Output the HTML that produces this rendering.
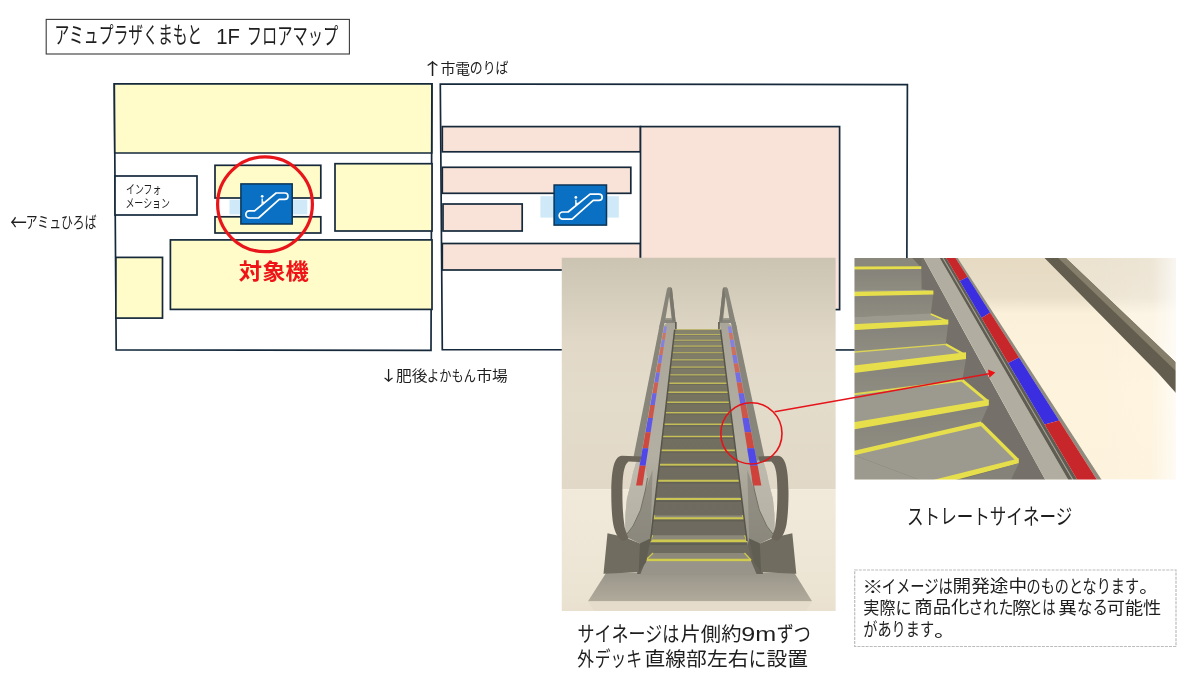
<!DOCTYPE html>
<html lang="ja"><head><meta charset="utf-8"><title>アミュプラザくまもと 1F フロアマップ</title>
<style>
html,body{margin:0;padding:0;background:#fff;}
body{width:1200px;height:683px;overflow:hidden;}
svg{display:block;}
text{font-family:"Liberation Sans", "Noto Sans CJK JP", sans-serif;}
.cjk{font-family:"Noto Sans CJK JP",sans-serif;}
</style></head><body>
<svg width="1200" height="683" viewBox="0 0 1200 683">
<rect width="1200" height="683" fill="#fff"/>
<polygon points="114.3,83.8 431.9,83.9 431,350.4 116.2,349.9" fill="#fff" stroke="#15293b" stroke-width="1.7"/>
<polygon points="114.3,83.8 431.9,83.9 431.7,153 114.8,153" fill="#fffcc9" stroke="#15293b" stroke-width="1.7"/>
<rect x="115.0" y="176.0" width="82.0" height="39.0" fill="#fff" stroke="#15293b" stroke-width="1.7" />
<rect x="215.0" y="165.3" width="105.8" height="32.7" fill="#fffcc9" stroke="#15293b" stroke-width="1.7" />
<rect x="215.0" y="216.8" width="105.8" height="16.2" fill="#fffcc9" stroke="#15293b" stroke-width="1.7" />
<rect x="335.0" y="163.7" width="97.0" height="67.3" fill="#fffcc9" stroke="#15293b" stroke-width="1.7" />
<rect x="170.4" y="239.9" width="261.6" height="69.5" fill="#fffcc9" stroke="#15293b" stroke-width="1.7" />
<rect x="115.9" y="257.4" width="46.6" height="60.7" fill="#fffcc9" stroke="#15293b" stroke-width="1.7" />
<polygon points="440.3,84.1 907.4,84.6 906.6,350 442.3,349.7" fill="#fff" stroke="#15293b" stroke-width="1.7"/>
<rect x="442.3" y="126.6" width="198.2" height="25.2" fill="#f9e3d8" stroke="#15293b" stroke-width="1.7" />
<rect x="442.3" y="167.3" width="188.5" height="26.0" fill="#f9e3d8" stroke="#15293b" stroke-width="1.7" />
<rect x="443.0" y="204.0" width="79.2" height="27.0" fill="#f9e3d8" stroke="#15293b" stroke-width="1.7" />
<rect x="442.3" y="243.5" width="198.2" height="26.5" fill="#f9e3d8" stroke="#15293b" stroke-width="1.7" />
<rect x="640.5" y="126.6" width="199.1" height="183.0" fill="#f9e3d8" stroke="#15293b" stroke-width="1.7" />
<rect x="229.5" y="199.7" width="77.80000000000001" height="14.700000000000017" fill="#cfe9f9"/>
<g transform="translate(240.2,183.2) scale(1.0,1)">
<rect x="0.7" y="0.7" width="51.3" height="40.1" fill="#0a70c4" stroke="#0b3556" stroke-width="1.5"/>
<path d="M9.2 27.7 H14.4 L35.9 9.8 H44.6 A3.15 3.15 0 0 1 44.6 16.1 H39 L18.3 34.8 H9.2 A3.55 3.55 0 0 1 9.2 27.7 Z" fill="none" stroke="#fff" stroke-width="1.7" stroke-linejoin="round"/>
<circle cx="22" cy="13.1" r="1.35" fill="#fff"/>
<path d="M22 15.4 V19.8 L23.6 18.6" fill="none" stroke="#fff" stroke-width="1.3"/>
</g>
<rect x="540.4" y="196.2" width="78.39999999999998" height="21.400000000000006" fill="#cfe9f9"/>
<g transform="translate(553.4,184.3) scale(1.021,1)">
<rect x="0.7" y="0.7" width="51.3" height="40.1" fill="#0a70c4" stroke="#0b3556" stroke-width="1.5"/>
<path d="M9.2 27.7 H14.4 L35.9 9.8 H44.6 A3.15 3.15 0 0 1 44.6 16.1 H39 L18.3 34.8 H9.2 A3.55 3.55 0 0 1 9.2 27.7 Z" fill="none" stroke="#fff" stroke-width="1.7" stroke-linejoin="round"/>
<circle cx="22" cy="13.1" r="1.35" fill="#fff"/>
<path d="M22 15.4 V19.8 L23.6 18.6" fill="none" stroke="#fff" stroke-width="1.3"/>
</g>
<circle cx="265" cy="204.3" r="47.4" fill="none" stroke="#e8161a" stroke-width="3.2"/>
<defs>
<clipPath id="cpL"><rect x="561.5" y="257.5" width="274.29999999999995" height="353.5"/></clipPath>
<linearGradient id="wallL" x1="0" y1="0" x2="0" y2="1"><stop offset="0" stop-color="#ccc4b2"/><stop offset="0.18" stop-color="#d6cebc"/><stop offset="0.37" stop-color="#e1d8c8"/><stop offset="0.62" stop-color="#e4dccb"/><stop offset="1" stop-color="#e1d8c7"/></linearGradient>
<linearGradient id="floorL" x1="0" y1="0" x2="0" y2="1"><stop offset="0" stop-color="#f1e9da"/><stop offset="0.85" stop-color="#ece4d3"/><stop offset="1" stop-color="#e9e0cf"/></linearGradient>
<linearGradient id="panelL" x1="0" y1="0" x2="0" y2="1"><stop offset="0" stop-color="#a9a598"/><stop offset="0.6" stop-color="#b3afa2"/><stop offset="1" stop-color="#98958a"/></linearGradient>
<linearGradient id="riser" x1="0" y1="0" x2="0" y2="1"><stop offset="0" stop-color="#86836f"/><stop offset="0.3" stop-color="#75725f"/><stop offset="0.6" stop-color="#6f6c60"/><stop offset="1" stop-color="#6d6a60"/></linearGradient>
<filter id="soft" x="-5%" y="-5%" width="110%" height="110%"><feGaussianBlur stdDeviation="0.55"/></filter>
</defs>
<g clip-path="url(#cpL)">
<rect x="561.5" y="257.5" width="274.29999999999995" height="231.7" fill="url(#wallL)"/>
<rect x="561.5" y="489.2" width="274.29999999999995" height="121.80000000000001" fill="url(#floorL)"/>
<g filter="url(#soft)">
<linearGradient id="platL" x1="0" y1="0" x2="0" y2="1"><stop offset="0" stop-color="#9a968a"/><stop offset="1" stop-color="#b0aa9b"/></linearGradient>
<polygon points="606,573 794.5,573 812,601.3 588,601.3" fill="url(#platL)"/>
<polygon points="588,601.3 812,601.3 806,611 594,611" fill="#e3dac9" opacity="0.7"/>
<polygon points="641,538 759,538 763,574 637,574" fill="#67645a"/>
<polygon points="674.7,329.7 720.5,329.7 747.0,541 751.3,561 753,566 644,566 645.5,561 650.5,541" fill="url(#riser)"/>
<line x1="674.7" y1="329.7" x2="720.5" y2="329.7" stroke="#bab460" stroke-width="1.00"/>
<line x1="674.7" y1="330.7" x2="720.5" y2="330.7" stroke="#5a574e" stroke-width="0.80" opacity="0.25"/>
<line x1="674.2" y1="334.4" x2="721.1" y2="334.4" stroke="#bab45f" stroke-width="1.03"/>
<line x1="674.2" y1="335.4" x2="721.1" y2="335.4" stroke="#5a574e" stroke-width="0.82" opacity="0.26"/>
<line x1="673.5" y1="340.3" x2="721.8" y2="340.3" stroke="#bbb55f" stroke-width="1.07"/>
<line x1="673.5" y1="341.4" x2="721.8" y2="341.4" stroke="#5a574e" stroke-width="0.86" opacity="0.27"/>
<line x1="672.8" y1="346.1" x2="722.5" y2="346.1" stroke="#bbb55e" stroke-width="1.11"/>
<line x1="672.8" y1="347.2" x2="722.5" y2="347.2" stroke="#5a574e" stroke-width="0.89" opacity="0.28"/>
<line x1="672.1" y1="352.7" x2="723.4" y2="352.7" stroke="#bcb65e" stroke-width="1.15"/>
<line x1="672.1" y1="353.8" x2="723.4" y2="353.8" stroke="#5a574e" stroke-width="0.92" opacity="0.29"/>
<line x1="671.2" y1="359.9" x2="724.3" y2="359.9" stroke="#bdb75d" stroke-width="1.20"/>
<line x1="671.2" y1="361.1" x2="724.3" y2="361.1" stroke="#5a574e" stroke-width="0.96" opacity="0.30"/>
<line x1="670.4" y1="367.1" x2="725.2" y2="367.1" stroke="#bdb75d" stroke-width="1.24"/>
<line x1="670.4" y1="368.3" x2="725.2" y2="368.3" stroke="#5a574e" stroke-width="0.99" opacity="0.31"/>
<line x1="669.5" y1="374.8" x2="726.1" y2="374.8" stroke="#beb85c" stroke-width="1.29"/>
<line x1="669.5" y1="376.1" x2="726.1" y2="376.1" stroke="#5a574e" stroke-width="1.03" opacity="0.33"/>
<line x1="668.6" y1="383.2" x2="727.2" y2="383.2" stroke="#bfb95b" stroke-width="1.35"/>
<line x1="668.6" y1="384.5" x2="727.2" y2="384.5" stroke="#5a574e" stroke-width="1.08" opacity="0.34"/>
<line x1="667.5" y1="392.3" x2="728.3" y2="392.3" stroke="#c0ba5b" stroke-width="1.41"/>
<line x1="667.5" y1="393.7" x2="728.3" y2="393.7" stroke="#5a574e" stroke-width="1.13" opacity="0.36"/>
<line x1="666.4" y1="402.2" x2="729.6" y2="402.2" stroke="#c1bb5a" stroke-width="1.47"/>
<line x1="666.4" y1="403.7" x2="729.6" y2="403.7" stroke="#5a574e" stroke-width="1.18" opacity="0.38"/>
<line x1="665.2" y1="412.7" x2="730.9" y2="412.7" stroke="#c2bc59" stroke-width="1.54"/>
<line x1="665.2" y1="414.2" x2="730.9" y2="414.2" stroke="#5a574e" stroke-width="1.23" opacity="0.39"/>
<line x1="663.8" y1="424.3" x2="732.3" y2="424.3" stroke="#c3bd58" stroke-width="1.62"/>
<line x1="663.8" y1="425.9" x2="732.3" y2="425.9" stroke="#5a574e" stroke-width="1.29" opacity="0.41"/>
<line x1="662.4" y1="436.5" x2="733.9" y2="436.5" stroke="#c5bf57" stroke-width="1.70"/>
<line x1="662.4" y1="438.2" x2="733.9" y2="438.2" stroke="#5a574e" stroke-width="1.36" opacity="0.44"/>
<line x1="660.9" y1="450.3" x2="735.6" y2="450.3" stroke="#c6c056" stroke-width="1.78"/>
<line x1="660.9" y1="452.1" x2="735.6" y2="452.1" stroke="#5a574e" stroke-width="1.43" opacity="0.46"/>
<line x1="659.2" y1="464.7" x2="737.4" y2="464.7" stroke="#c8c255" stroke-width="1.88"/>
<line x1="659.2" y1="466.6" x2="737.4" y2="466.6" stroke="#5a574e" stroke-width="1.50" opacity="0.48"/>
<polygon points="658.9,480.1 737.8,480.1 739.4,480.8 657.4,480.8" fill="#8d897a"/>
<line x1="657.4" y1="480.8" x2="739.4" y2="480.8" stroke="#c9c354" stroke-width="1.98"/>
<line x1="657.4" y1="482.8" x2="739.4" y2="482.8" stroke="#5a574e" stroke-width="1.59" opacity="0.51"/>
<polygon points="656.9,497.5 740.0,497.5 741.7,499.0 655.3,499.0" fill="#8d897a"/>
<line x1="655.3" y1="499.0" x2="741.7" y2="499.0" stroke="#cbc552" stroke-width="2.10"/>
<line x1="655.3" y1="501.1" x2="741.7" y2="501.1" stroke="#5a574e" stroke-width="1.68" opacity="0.54"/>
<polygon points="654.9,515.4 742.3,515.4 744.1,518.3 653.1,518.3" fill="#8d897a"/>
<path d="M654.9 515.4 L653.1 518.3 M742.3 515.4 L744.1 518.3" stroke="#cfc84e" stroke-width="1.3" fill="none"/>
<line x1="653.1" y1="518.3" x2="744.1" y2="518.3" stroke="#cdc751" stroke-width="2.23"/>
<line x1="653.1" y1="520.5" x2="744.1" y2="520.5" stroke="#5a574e" stroke-width="1.78" opacity="0.58"/>
<polygon points="652.6,535.2 744.7,535.2 747.0,540.9 650.5,540.9" fill="#8d897a"/>
<path d="M652.6 535.2 L650.5 540.9 M744.7 535.2 L747.0 540.9" stroke="#cfc84e" stroke-width="1.3" fill="none"/>
<line x1="650.5" y1="540.9" x2="747.0" y2="540.9" stroke="#cfc94f" stroke-width="2.87"/>
<line x1="650.5" y1="543.8" x2="747.0" y2="543.8" stroke="#5a574e" stroke-width="2.30" opacity="0.62"/>
<polygon points="653.1,553.0 744.5,553.0 751.1,560.2 645.6,560.2" fill="#8d897a"/>
<path d="M653.1 553.0 L645.6 560.2 M744.5 553.0 L751.1 560.2" stroke="#cfc84e" stroke-width="1.3" fill="none"/>
<line x1="645.6" y1="560.2" x2="751.1" y2="560.2" stroke="#d2cc4e" stroke-width="3.00"/>
<line x1="645.6" y1="563.2" x2="751.1" y2="563.2" stroke="#5a574e" stroke-width="2.40" opacity="0.65"/>
<polygon points="645.6,561.2 751.1,561.2 757,575 640,575" fill="#98948a"/>
<polygon points="640.7,459.0 636.4,461.5 633.2,472.0 630.8,483.5 626.9,498.8 625.4,514.2 625.2,528.0 626.0,537.0 640.0,543.5 650.6,538.7 650.0,545.0 675.7,321.0 668.2,321.0 663.9,326.0" fill="url(#panelL)"/>
<polygon points="652.5,470.0 645.6,490.0 641.0,510.0 633.0,527.0 626.0,536.5 640.0,543.5 650.6,538.7" fill="#7f7c71" opacity="0.55"/>
<polygon points="636.4,461.5 633.2,472.0 630.8,483.5 626.9,498.8 625.4,514.2 625.2,528.0 626.5,534.0 633.0,526.0 640.5,510.0 645.4,490.0 647.5,478.0 645.0,466.0" fill="#c6c3b6" opacity="0.6"/>
<polyline points="647.5,478.0 645.4,490.0 640.5,510.0 633.0,526.0 627.0,534.0" fill="none" stroke="#5d5a50" stroke-width="0.9" opacity="0.8"/>
<line x1="674.7" y1="329.7" x2="650.5" y2="541" stroke="#57544a" stroke-width="1.5"/>
<polygon points="660.3,322 664.6,322 640.3,461 633.5,457" fill="#88857a"/>
<polygon points="664.24,326.6 666.90,326.6 665.89,333.0 663.14,333.0" fill="#8c86de"/>
<polygon points="663.12,333.0 665.91,333.0 664.84,339.8 661.95,339.8" fill="#cc7565"/>
<polygon points="661.92,339.8 664.86,339.8 663.71,347.1 660.66,347.1" fill="#857fdf"/>
<polygon points="660.64,347.1 663.74,347.1 662.50,354.9 659.28,354.9" fill="#cc6f60"/>
<polygon points="659.25,354.9 662.53,354.9 661.19,363.4 657.79,363.4" fill="#7e77e0"/>
<polygon points="657.75,363.4 661.23,363.4 659.78,372.5 656.17,372.5" fill="#cd685a"/>
<polygon points="656.13,372.5 659.82,372.5 658.26,382.5 654.41,382.5" fill="#756ee2"/>
<polygon points="654.36,382.5 658.30,382.5 656.60,393.3 652.49,393.3" fill="#cd5f53"/>
<polygon points="652.44,393.3 656.65,393.3 654.79,405.1 650.39,405.1" fill="#6a63e3"/>
<polygon points="650.33,405.1 654.85,405.1 652.82,418.0 648.08,418.0" fill="#cd564b"/>
<polygon points="648.01,418.0 652.88,418.0 650.64,432.3 645.52,432.3" fill="#5e56e5"/>
<polygon points="645.45,432.3 650.72,432.3 648.24,448.2 642.68,448.2" fill="#ce4a41"/>
<polygon points="642.60,448.2 648.33,448.2 645.57,465.8 639.51,465.8" fill="#4f47e8"/>
<polygon points="639.50,465.8 645.58,465.8 642.49,485.6 636.05,485.6" fill="#ce423a"/>
<path d="M658.7 330.0 L667.0 288.8 L668.2 287.3 L670.9 287.3 L672.0 288.8 L675.6 321.5 L675.6 323.0 L664.0 323.0 Z M669.2 296.2 L671.5 317.9 L665.6 317.9 Z" fill="#87847a" fill-rule="evenodd"/>
<path d="M670.9 287.3 L672.0 288.8 L675.6 321.5 L672.6 321.5 L669.6 296.2 Z" fill="#7a776c"/>
<polygon points="665.3,318.2 672.0,318.2 672.0,319.4 665.1,319.4" fill="#a5a195"/>
<polygon points="675.0,322.0 676.7,322.0 676.7,329.3 675.0,329.3" fill="#5f5c52"/>
<polygon points="607.5,533.2 624.0,537.0 640.0,543.5 650.8,538.5 646.0,562.0 638.7,572.3 603.5,573.8" fill="#6f6c60"/>
<polygon points="640.0,543.5 650.8,538.5 646.0,562.0 638.7,572.3" fill="#605d52"/>
<path d="M641.5 456.6 L622.0 455.8 C614.0 456.0 611.5 470.0 611.3 491.0 C611.2 505.0 612.0 517.0 613.3 524.6 C615.0 533.0 618.0 539.0 623.0 541.0 L628.5 538.5 C626.5 533.0 625.2 530.0 624.6 527.0 C622.8 515.0 622.3 503.0 622.4 491.0 C622.5 477.0 623.5 464.8 628.5 461.4 L640.0 462.0 Z " fill="#6a6558"/>
<polygon points="759.1,459.0 763.4,461.5 766.6,472.0 769.0,483.5 772.9,498.8 774.4,514.2 774.6,528.0 773.8,537.0 759.8,543.5 749.2,538.7 747.5,545.0 719.4,321.0 726.3,321.0 731.6,326.0" fill="url(#panelL)"/>
<polygon points="747.3,470.0 754.2,490.0 758.8,510.0 766.8,527.0 773.8,536.5 759.8,543.5 749.2,538.7" fill="#7f7c71" opacity="0.55"/>
<polygon points="763.4,461.5 766.6,472.0 769.0,483.5 772.9,498.8 774.4,514.2 774.6,528.0 773.3,534.0 766.8,526.0 759.3,510.0 754.4,490.0 752.3,478.0 754.8,466.0" fill="#c6c3b6" opacity="0.6"/>
<polyline points="752.3,478.0 754.4,490.0 759.3,510.0 766.8,526.0 772.8,534.0" fill="none" stroke="#5d5a50" stroke-width="0.9" opacity="0.8"/>
<line x1="720.5" y1="329.7" x2="747.0" y2="541" stroke="#57544a" stroke-width="1.5"/>
<polygon points="735.6,322 730.8,322 756.8,461 764.4,457" fill="#88857a"/>
<polygon points="731.14,326.6 727.77,326.6 728.82,333.0 732.31,333.0" fill="#8c86de"/>
<polygon points="732.33,333.0 728.79,333.0 729.92,339.8 733.59,339.8" fill="#cc7565"/>
<polygon points="733.62,339.8 729.89,339.8 731.10,347.1 734.96,347.1" fill="#857fdf"/>
<polygon points="735.00,347.1 731.07,347.1 732.37,354.9 736.45,354.9" fill="#cc6f60"/>
<polygon points="736.49,354.9 732.33,354.9 733.73,363.4 738.05,363.4" fill="#7e77e0"/>
<polygon points="738.09,363.4 733.68,363.4 735.20,372.5 739.78,372.5" fill="#cd685a"/>
<polygon points="739.83,372.5 735.15,372.5 736.79,382.5 741.67,382.5" fill="#756ee2"/>
<polygon points="741.73,382.5 736.73,382.5 738.51,393.3 743.73,393.3" fill="#cd5f53"/>
<polygon points="743.79,393.3 738.45,393.3 740.40,405.1 745.99,405.1" fill="#6a63e3"/>
<polygon points="746.06,405.1 740.32,405.1 742.45,418.0 748.47,418.0" fill="#cd564b"/>
<polygon points="748.55,418.0 742.37,418.0 744.72,432.3 751.21,432.3" fill="#5e56e5"/>
<polygon points="751.31,432.3 744.62,432.3 747.21,448.2 754.26,448.2" fill="#ce4a41"/>
<polygon points="754.37,448.2 747.10,448.2 749.98,465.8 757.67,465.8" fill="#4f47e8"/>
<polygon points="757.68,465.8 749.97,465.8 753.20,485.6 761.38,485.6" fill="#ce423a"/>
<path d="M737.3 330.0 L727.8 288.8 L726.6 287.3 L723.9 287.3 L722.8 288.8 L719.2 321.5 L719.2 323.0 L730.8 323.0 Z M725.6 296.2 L723.3 317.9 L729.2 317.9 Z" fill="#87847a" fill-rule="evenodd"/>
<path d="M723.9 287.3 L722.8 288.8 L719.2 321.5 L722.2 321.5 L725.2 296.2 Z" fill="#7a776c"/>
<polygon points="729.5,318.2 722.8,318.2 722.8,319.4 729.7,319.4" fill="#a5a195"/>
<polygon points="719.8,322.0 718.1,322.0 718.1,329.3 719.8,329.3" fill="#5f5c52"/>
<polygon points="792.3,533.2 775.8,537.0 759.8,543.5 749.0,538.5 753.8,562.0 761.1,572.3 796.3,573.8" fill="#6f6c60"/>
<polygon points="759.8,543.5 749.0,538.5 753.8,562.0 761.1,572.3" fill="#605d52"/>
<path d="M758.3 456.6 L777.8 455.8 C785.8 456.0 788.3 470.0 788.5 491.0 C788.6 505.0 787.8 517.0 786.5 524.6 C784.8 533.0 781.8 539.0 776.8 541.0 L771.3 538.5 C773.3 533.0 774.6 530.0 775.2 527.0 C777.0 515.0 777.5 503.0 777.4 491.0 C777.3 477.0 776.3 464.8 771.3 461.4 L759.8 462.0 Z " fill="#6a6558"/>
</g>
</g>
<defs>
<clipPath id="cpR"><rect x="854.5" y="257.9" width="321.0999999999999" height="221.70000000000005"/></clipPath>
<linearGradient id="bgR" x1="0" y1="0" x2="0" y2="1"><stop offset="0" stop-color="#e6dac3"/><stop offset="0.175" stop-color="#e9dec8"/><stop offset="0.25" stop-color="#fbf0da"/><stop offset="0.6" stop-color="#fef3dd"/><stop offset="1" stop-color="#fdf2dc"/></linearGradient>
<linearGradient id="bgR2" x1="0" y1="0" x2="1" y2="0"><stop offset="0" stop-color="#fff" stop-opacity="0"/><stop offset="0.7" stop-color="#fff" stop-opacity="0.1"/><stop offset="1" stop-color="#fff" stop-opacity="0.7"/></linearGradient>
<linearGradient id="riserR" x1="0" y1="0" x2="0" y2="1"><stop offset="0" stop-color="#85827a"/><stop offset="1" stop-color="#8f8c81"/></linearGradient>
<filter id="softR" x="-5%" y="-5%" width="110%" height="110%"><feGaussianBlur stdDeviation="0.6"/></filter>
</defs>
<g clip-path="url(#cpR)">
<rect x="854.5" y="257.9" width="321.0999999999999" height="221.70000000000005" fill="url(#bgR)"/>
<polygon points="1062,255 1180,255 1180,368" fill="#fff" opacity="0.22"/>
<rect x="1094.5" y="257.9" width="81.09999999999991" height="221.70000000000005" fill="url(#bgR2)"/>
<g filter="url(#softR)">
<polygon points="1041.6,255.0 1062.7,255.0 1180.0,366.5 1180.0,397.5 1158.0,373.0" fill="#625d4f"/>
<polygon points="1055.0,255.0 1062.7,255.0 1180.0,366.5 1180.0,375.0" fill="#857e6b"/>
<polygon points="850.0,255.0 922.0,255.0 1046.5,482.0 850.0,482.0" fill="#74716a"/>
<polygon points="922.2,255.0 938.0,255.0 1069.5,482.0 1046.5,482.0" fill="#b1aea1"/>
<polygon points="938.0,255.0 944.4,255.0 1078.6,482.0 1069.5,482.0" fill="#5f5c52"/>
<polyline points="941.2,255.0 1074.2,482.0" fill="none" stroke="#a7a396" stroke-width="1.1"/>
<polygon points="953.5,255.0 955.7,255.0 1103.0,482.0 1098.4,482.0" fill="#8f8b7e"/>
<polygon points="941.4,250.0 950.4,250.0 967.6,277.0 959.8,281.0" fill="#c7252a"/>
<polygon points="959.8,281.0 967.6,277.0 990.2,312.5 981.6,318.0" fill="#3a2ee0"/>
<polygon points="981.6,318.0 990.2,312.5 1019.0,357.5 1008.2,363.0" fill="#c7252a"/>
<polygon points="1008.2,363.0 1019.0,357.5 1059.2,420.5 1044.6,424.5" fill="#3a2ee0"/>
<polygon points="1044.6,424.5 1059.2,420.5 1100.9,486.0 1083.3,490.0" fill="#c7252a"/>
<polygon points="850.0,255.0 909.7,255.0 921.3,266.6 850.0,266.8" fill="#8a877c"/>
<polygon points="909.7,255.0 922.0,255.0 921.5,268.0" fill="#6f6c62"/>
<polygon points="850.0,269.3 921.3,269.0 921.6,289.6 850.0,290.3" fill="url(#riserR)"/>
<polygon points="850.0,266.6 921.3,266.3 921.3,269.1 850.0,269.5" fill="#e6df4c"/>
<polygon points="850.0,290.2 922.5,289.5 933.4,291.0 850.0,292.2" fill="#9c998e"/>
<polygon points="850.0,294.5 933.4,293.0 930.7,314.0 850.0,317.2" fill="url(#riserR)"/>
<polygon points="850.0,291.8 933.4,290.6 933.4,294.4 850.0,296.2" fill="#e6df4c"/>
<polygon points="850.0,317.2 930.7,313.6 948.3,321.3 850.0,326.0" fill="#9c998e"/>
<polyline points="930.7,313.9 947.6,321.2" fill="none" stroke="#e6df4c" stroke-width="1.6"/>
<polygon points="850.0,329.0 948.2,323.6 945.7,344.0 850.0,352.2" fill="url(#riserR)"/>
<polygon points="850.0,324.4 948.3,319.6 948.3,324.4 850.0,330.4" fill="#e6df4c"/>
<polygon points="850.0,352.2 945.7,344.0 966.0,355.5 850.0,367.0" fill="#9c998e"/>
<polyline points="945.7,344.3 965.0,355.0" fill="none" stroke="#e6df4c" stroke-width="2.2"/>
<polyline points="850.0,352.4 945.7,344.3" fill="none" stroke="#e6df4c" stroke-width="1.3" opacity="0.85"/>
<polygon points="850.0,372.0 966.0,358.5 962.4,380.0 850.0,394.5" fill="url(#riserR)"/>
<polygon points="850.0,366.0 966.0,352.2 966.0,359.0 850.0,373.5" fill="#e6df4c"/>
<polygon points="850.0,394.5 962.4,380.0 988.8,402.0 850.0,424.0" fill="#9c998e"/>
<polyline points="962.4,380.4 987.6,401.3" fill="none" stroke="#e6df4c" stroke-width="2.8"/>
<polyline points="850.0,394.8 962.4,380.4" fill="none" stroke="#e6df4c" stroke-width="2" opacity="0.9"/>
<polygon points="850.0,428.0 988.8,404.6 980.8,423.0 850.0,453.5" fill="url(#riserR)"/>
<polygon points="850.0,422.8 988.8,399.6 988.8,405.6 850.0,430.0" fill="#e6df4c"/>
<polygon points="850.0,453.5 980.8,423.0 1018.8,460.8 930.0,484.0" fill="#9c998e"/>
<polygon points="850.0,453.5 930.0,484.0 850.0,484.0" fill="#9c998e"/>
<polyline points="980.8,423.5 1017.4,460.0" fill="none" stroke="#e6df4c" stroke-width="3.4"/>
<polygon points="850.0,451.6 980.8,421.6 983.5,425.6 850.0,456.2" fill="#e6df4c"/>
<polygon points="925.0,482.0 1018.8,458.4 1018.8,463.2 948.0,482.0" fill="#e6df4c"/>
<polygon points="952.0,482.0 1018.8,463.2 1010.0,482.0" fill="#85827a"/>
</g></g>
<circle cx="751.4" cy="433.4" r="30.6" fill="none" stroke="#e5141a" stroke-width="1.6"/>
<line x1="774.6" y1="411.8" x2="989" y2="373.8" stroke="#e5141a" stroke-width="1.4"/>
<polygon points="995.3,372.6 988,369.6 989.4,377.7" fill="#f01014"/>
<rect x="46.2" y="19.4" width="303.2" height="34.6" fill="#fff" stroke="#3a3a3a" stroke-width="1.1" />
<rect x="854.7" y="570" width="321.3" height="76.5" fill="#fff" stroke="#bcbcbc" stroke-width="1.2" stroke-dasharray="3 1.1"/>
<text fill="#1e1e1e" font-weight="400"><tspan x="54.52" y="43.41" font-size="22.60" textLength="147.64" lengthAdjust="spacingAndGlyphs">アミュプラザくまもと</tspan><tspan x="216.13" y="43.57" font-size="21.50" textLength="23.69" lengthAdjust="spacingAndGlyphs">1F</tspan><tspan x="246.71" y="43.57" font-size="22.60" textLength="91.52" lengthAdjust="spacingAndGlyphs">フロアマップ</tspan></text>
<text fill="#1e1e1e" font-weight="400"><tspan x="421.20" y="74.64" font-size="16.60" textLength="22.61" lengthAdjust="spacingAndGlyphs" class="cjk">↑</tspan></text>
<text fill="#1e1e1e" font-weight="400"><tspan x="440.41" y="73.64" font-size="14.40" textLength="29.85" lengthAdjust="spacingAndGlyphs">市電</tspan><tspan x="469.71" y="73.32" font-size="15.20" textLength="38.79" lengthAdjust="spacingAndGlyphs">のりば</tspan></text>
<text fill="#1e1e1e" font-weight="400"><tspan x="10.35" y="230.44" font-size="21.60" textLength="16.55" lengthAdjust="spacingAndGlyphs" class="cjk">←</tspan></text>
<text fill="#1e1e1e" font-weight="400"><tspan x="25.74" y="227.60" font-size="15.40" textLength="70.83" lengthAdjust="spacingAndGlyphs">アミュひろば</tspan></text>
<text fill="#1e1e1e" font-weight="400"><tspan x="126.10" y="194.06" font-size="12.40" textLength="35.28" lengthAdjust="spacingAndGlyphs">インフォ</tspan></text>
<text fill="#1e1e1e" font-weight="400"><tspan x="125.38" y="207.74" font-size="12.40" textLength="44.69" lengthAdjust="spacingAndGlyphs">メーション</tspan></text>
<text fill="#1e1e1e" font-weight="400"><tspan x="379.21" y="380.28" font-size="14.20" textLength="18.68" lengthAdjust="spacingAndGlyphs" class="cjk">↓</tspan></text>
<text fill="#1e1e1e" font-weight="400"><tspan x="395.97" y="381.37" font-size="14.40" textLength="31.56" lengthAdjust="spacingAndGlyphs">肥後</tspan><tspan x="427.12" y="381.17" font-size="15.20" textLength="48.79" lengthAdjust="spacingAndGlyphs">よかもん</tspan><tspan x="476.48" y="381.17" font-size="14.40" textLength="31.32" lengthAdjust="spacingAndGlyphs">市場</tspan></text>
<text fill="#ee1418" font-weight="700"><tspan x="238.87" y="278.71" font-size="21.90" textLength="69.89" lengthAdjust="spacingAndGlyphs">対象機</tspan></text>
<text fill="#1e1e1e" font-weight="400"><tspan x="907.06" y="523.72" font-size="21.20" textLength="165.16" lengthAdjust="spacingAndGlyphs">ストレートサイネージ</tspan></text>
<text fill="#1e1e1e" font-weight="400"><tspan x="577.57" y="641.17" font-size="20.97" textLength="101.61" lengthAdjust="spacingAndGlyphs">サイネージは</tspan><tspan x="680.56" y="641.03" font-size="19.60" textLength="60.89" lengthAdjust="spacingAndGlyphs">片側約</tspan><tspan x="741.18" y="641.17" font-size="21.00" textLength="34.96" lengthAdjust="spacingAndGlyphs">9m</tspan><tspan x="776.64" y="641.17" font-size="20.97" textLength="34.01" lengthAdjust="spacingAndGlyphs">ずつ</tspan></text>
<text fill="#1e1e1e" font-weight="400"><tspan x="577.29" y="666.26" font-size="19.60" textLength="16.80" lengthAdjust="spacingAndGlyphs">外</tspan><tspan x="594.75" y="666.26" font-size="20.97" textLength="47.32" lengthAdjust="spacingAndGlyphs">デッキ</tspan><tspan x="644.46" y="666.44" font-size="19.60" textLength="104.11" lengthAdjust="spacingAndGlyphs">直線部左右</tspan><tspan x="748.84" y="666.26" font-size="20.97" textLength="17.78" lengthAdjust="spacingAndGlyphs">に</tspan><tspan x="766.64" y="666.26" font-size="19.60" textLength="41.46" lengthAdjust="spacingAndGlyphs">設置</tspan></text>
<text fill="#1e1e1e" font-weight="400"><tspan x="862.31" y="592.70" font-size="17.30" textLength="21.13" lengthAdjust="spacingAndGlyphs">※</tspan><tspan x="881.68" y="592.70" font-size="18.51" textLength="71.17" lengthAdjust="spacingAndGlyphs">イメージは</tspan><tspan x="952.62" y="592.23" font-size="17.30" textLength="74.50" lengthAdjust="spacingAndGlyphs">開発途中</tspan><tspan x="1026.62" y="592.70" font-size="18.51" textLength="112.39" lengthAdjust="spacingAndGlyphs">のものとなります</tspan><tspan x="1139.13" y="592.70" font-size="18.51" textLength="18.61" lengthAdjust="spacingAndGlyphs">。</tspan></text>
<text fill="#1e1e1e" font-weight="400"><tspan x="863.32" y="613.72" font-size="17.30" textLength="48.27" lengthAdjust="spacingAndGlyphs">実際に</tspan><tspan x="914.39" y="613.41" font-size="17.30" textLength="54.98" lengthAdjust="spacingAndGlyphs">商品化</tspan><tspan x="968.22" y="613.72" font-size="18.51" textLength="45.34" lengthAdjust="spacingAndGlyphs">された</tspan><tspan x="1012.06" y="613.72" font-size="17.30" textLength="19.33" lengthAdjust="spacingAndGlyphs">際</tspan><tspan x="1028.90" y="613.72" font-size="18.51" textLength="26.74" lengthAdjust="spacingAndGlyphs">とは</tspan><tspan x="1058.38" y="613.72" font-size="17.30" textLength="18.58" lengthAdjust="spacingAndGlyphs">異</tspan><tspan x="1076.99" y="613.72" font-size="18.51" textLength="30.82" lengthAdjust="spacingAndGlyphs">なる</tspan><tspan x="1106.76" y="613.72" font-size="17.30" textLength="54.48" lengthAdjust="spacingAndGlyphs">可能性</tspan></text>
<text fill="#1e1e1e" font-weight="400"><tspan x="863.36" y="636.46" font-size="18.51" textLength="70.66" lengthAdjust="spacingAndGlyphs">があります</tspan><tspan x="933.90" y="636.63" font-size="18.51" textLength="22.49" lengthAdjust="spacingAndGlyphs">。</tspan></text>
</svg>
</body></html>
